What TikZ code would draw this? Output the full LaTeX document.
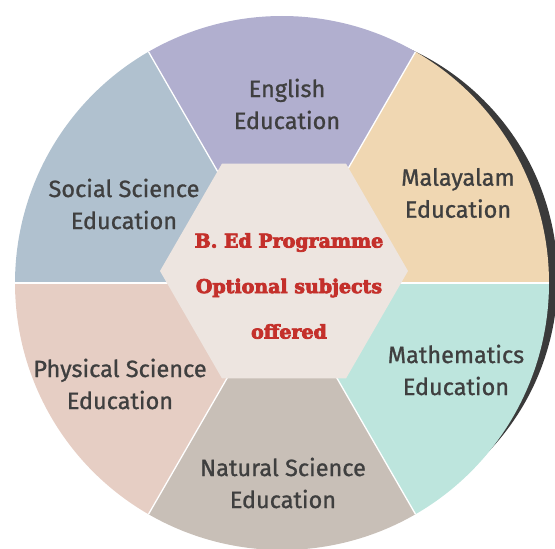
\documentclass[tikz,border=0pt]{standalone}
\usepackage{fontspec}
\setmainfont{Fira Sans}
\newfontfamily\labelfont{Fira Sans}[FakeBold=1]
\newfontfamily\titlefont{DejaVu Serif Bold}[FakeBold=4]
\definecolor{cEng}{HTML}{B1AFCF}
\definecolor{cMal}{HTML}{F0D7B2}
\definecolor{cMat}{HTML}{BDE5DD}
\definecolor{cNat}{HTML}{C8BFB7}
\definecolor{cPhy}{HTML}{E6CEC4}
\definecolor{cSoc}{HTML}{B0C1CF}
\definecolor{cHex}{HTML}{EDE5E0}
\definecolor{cRed}{HTML}{C4302B}
\definecolor{cTxt}{HTML}{3F3F3F}
\definecolor{cShadow}{HTML}{3A3A3A}
\tikzset{
  label/.style={align=center, text=cTxt, font=\labelfont\fontsize{23.5}{32}\selectfont, inner sep=0pt},
  title/.style={align=center, text=cRed, font=\titlefont\fontsize{19}{45.5}\selectfont, inner sep=0pt},
  divider/.style={draw=white, line width=1.3pt},
}
\begin{document}
\begin{tikzpicture}[x=1pt,y=1pt]
\useasboundingbox (0,0) rectangle (555,549);
\coordinate (O) at (282,266);
\coordinate (H) at (284,278);
% shadow crescent
\fill[cShadow] (305.8,270.6) circle (251.8);
% sectors
\fill[cMal] (O) -- ++(0:267) arc[start angle=0, end angle=60, radius=267] -- cycle;
\fill[cEng] (O) -- ++(60:267) arc[start angle=60, end angle=120, radius=267] -- cycle;
\fill[cSoc] (O) -- ++(120:267) arc[start angle=120, end angle=180, radius=267] -- cycle;
\fill[cPhy] (O) -- ++(180:267) arc[start angle=180, end angle=240, radius=267] -- cycle;
\fill[cNat] (O) -- ++(240:267) arc[start angle=240, end angle=300, radius=267] -- cycle;
\fill[cMat] (O) -- ++(300:267) arc[start angle=300, end angle=360, radius=267] -- cycle;
% dividers
\foreach \a in {0,60,...,300} { \draw[divider] (O) -- ++(\a:267); }
% central hexagon
\fill[cHex] (H) ++(0:124) -- ++(120:124) -- ++(180:124) -- ++(240:124) -- ++(300:124) -- ++(0:124) -- cycle;
% texts
\node[title] (T) at (289,263) {B. Ed Programme\\Optional subjects\\offered};
\node[label] (eng) at (287,445) {English\\Education};
\node[label] (mal) at (458,356) {Malayalam\\Education};
\node[label] (soc) at (124,345) {Social Science\\Education};
\node[label] (phy) at (120,165) {Physical Science\\Education};
\node[label] (mat) at (456,179) {Mathematics\\Education};
\node[label] (nat) at (283,66) {Natural Science\\Education};
\end{tikzpicture}
\end{document}
